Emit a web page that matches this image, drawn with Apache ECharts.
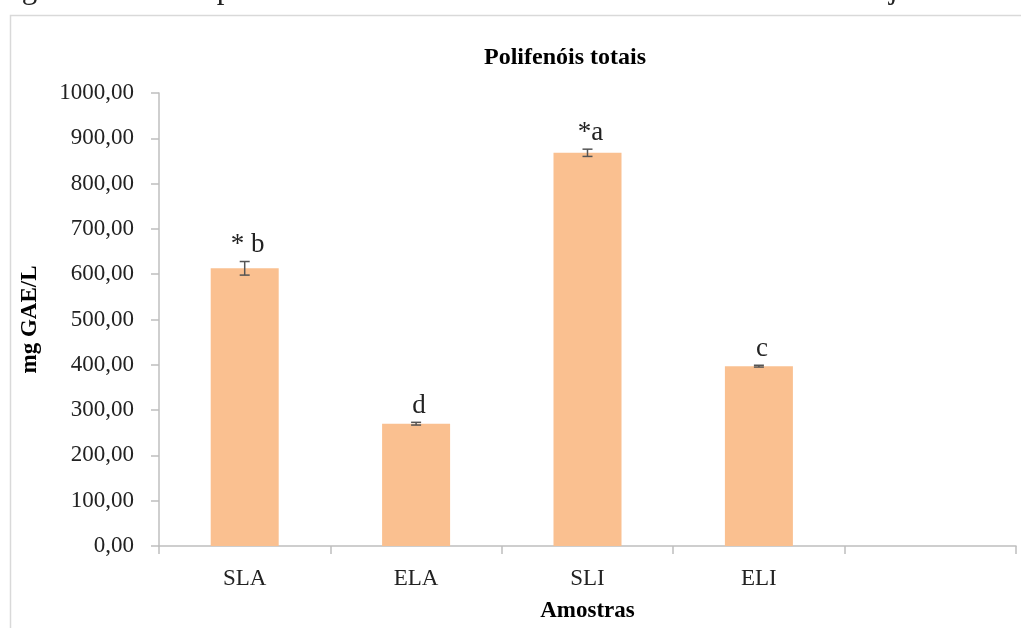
<!DOCTYPE html>
<html>
<head>
<meta charset="utf-8">
<script src="https://cdn.jsdelivr.net/npm/echarts@6/dist/echarts.min.js"></script>
<style>
  html, body { margin: 0; padding: 0; background: #fff; }
  #chart { width: 1021px; height: 628px; }
</style>
</head>
<body>
<div id="chart"></div>
<script>
// dados
const categories = ['SLA', 'ELA', 'SLI', 'ELI', ''];
const values = [613, 270, 868, 397, null];
const errors = [15, 3, 8, 2, null];
const letters = ['* b', 'd', '*a', 'c', ''];
const yTicks = { min: 0, max: 1000, interval: 100 };

const serif = '"Liberation Serif", "Times New Roman", serif';
const chart = echarts.init(document.getElementById('chart'));

const errData = values.map((v, i) => v == null ? null : [i, v - errors[i], v + errors[i], letters[i]]);

chart.setOption({
  animation: false,
  title: {
    text: 'Polifenóis totais',
    left: 560, top: 41, textAlign: 'center',
    textStyle: { fontFamily: serif, fontWeight: 'bold', fontSize: 24, color: '#000' }
  },
  graphic: [
    {
      type: 'rect', silent: true,
      shape: { x: 10.5, y: 15.5, width: 1200, height: 800 },
      style: { fill: null, stroke: '#d9d9d9', lineWidth: 1.5 }
    },
    {
      type: 'text', silent: true,
      style: {
        text: 'Figura 1. Teor de polifenóis totais dos sucos e extratos de casca de laranja',
        x: -4, y: 5, verticalAlign: 'bottom',
        font: '31px ' + serif, fill: '#222'
      }
    }
  ],
  grid: { left: 159, right: 5, top: 93, bottom: 80 },
  xAxis: {
    type: 'category',
    data: categories,
    name: 'Amostras',
    nameLocation: 'middle',
    nameGap: 54,
    nameTextStyle: { fontFamily: serif, fontWeight: 'bold', fontSize: 23, color: '#000' },
    axisLine: { lineStyle: { color: '#bfbfbf', width: 1.5 } },
    axisTick: { show: true, length: 8, lineStyle: { color: '#bfbfbf', width: 1.5 } },
    axisLabel: { margin: 21, fontFamily: serif, fontSize: 23, color: '#222' }
  },
  yAxis: {
    type: 'value',
    min: yTicks.min, max: yTicks.max, interval: yTicks.interval,
    name: 'mg GAE/L',
    nameLocation: 'middle',
    nameGap: 117,
    nameTextStyle: { fontFamily: serif, fontWeight: 'bold', fontSize: 23, color: '#000' },
    splitLine: { show: false },
    axisLine: { show: true, lineStyle: { color: '#bfbfbf', width: 1.5 } },
    axisTick: { show: true, length: 8, lineStyle: { color: '#bfbfbf', width: 1.5 } },
    axisLabel: {
      margin: 25, fontFamily: serif, fontSize: 23, color: '#222',
      formatter: v => v.toFixed(2).replace('.', ',')
    }
  },
  series: [
    {
      type: 'bar',
      data: values,
      barWidth: 68,
      itemStyle: { color: '#fac090' }
    },
    {
      type: 'custom',
      data: errData.filter(d => d),
      z: 5,
      renderItem: (params, api) => {
        const x = api.value(0);
        const lo = api.coord([x, api.value(1)]);
        const hi = api.coord([x, api.value(2)]);
        const cap = 5;
        const style = { stroke: '#555', lineWidth: 1.5 };
        return {
          type: 'group',
          children: [
            { type: 'line', shape: { x1: hi[0], y1: hi[1], x2: lo[0], y2: lo[1] }, style },
            { type: 'line', shape: { x1: hi[0] - cap, y1: hi[1], x2: hi[0] + cap, y2: hi[1] }, style },
            { type: 'line', shape: { x1: lo[0] - cap, y1: lo[1], x2: lo[0] + cap, y2: lo[1] }, style },
            {
              type: 'text',
              style: {
                text: api.value(3), x: hi[0] + 3, y: hi[1] - 3,
                align: 'center', verticalAlign: 'bottom',
                font: '27px ' + serif, fill: '#222'
              }
            }
          ]
        };
      }
    }
  ]
});
</script>
</body>
</html>
